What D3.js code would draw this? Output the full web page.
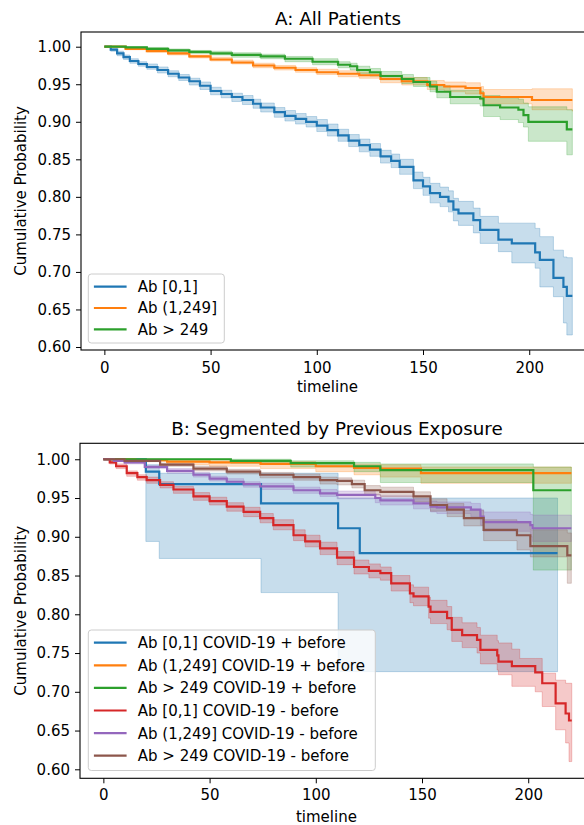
<!DOCTYPE html>
<html>
<head>
<meta charset="utf-8">
<script src="https://cdn.jsdelivr.net/npm/d3@7"></script>
<style>
  html, body { margin: 0; padding: 0; background: #ffffff; }
  svg { display: block; font-family: "DejaVu Sans", sans-serif; }
</style>
</head>
<body>
<script>
// ---------------- DATA ----------------
// rows: [timeline, survival, lower CI, upper CI]
const titleA = "A: All Patients";
const titleB = "B: Segmented by Previous Exposure";
const xLabel = "timeline";
const yLabel = "Cumulative Probability";
const xTicks = [0, 50, 100, 150, 200];
const yTicks = [0.60, 0.65, 0.70, 0.75, 0.80, 0.85, 0.90, 0.95, 1.00];

const namesA = ["Ab [0,1]", "Ab (1,249]", "Ab > 249"];
const namesB = ["Ab [0,1] COVID-19 + before", "Ab (1,249] COVID-19 + before",
                "Ab > 249 COVID-19 + before", "Ab [0,1] COVID-19 - before",
                "Ab (1,249] COVID-19 - before", "Ab > 249 COVID-19 - before"];

const aLow = [
  [0,1,1,1],[3,0.996,0.994,0.998],[6,0.991,0.988,0.994],[9,0.986,0.983,0.989],
  [12,0.981,0.978,0.984],[16,0.977,0.974,0.980],[20,0.973,0.970,0.977],[25,0.969,0.965,0.973],
  [30,0.964,0.960,0.968],[35,0.959,0.955,0.963],[40,0.954,0.949,0.958],[45,0.948,0.943,0.953],
  [50,0.941,0.936,0.946],[55,0.937,0.932,0.942],[60,0.933,0.927,0.938],[65,0.929,0.923,0.935],
  [70,0.924,0.918,0.930],[73.6,0.919,0.913,0.925],[80,0.913,0.906,0.919],[85,0.908,0.901,0.915],
  [90,0.904,0.897,0.911],[95,0.900,0.893,0.907],[100,0.895,0.887,0.903],[105,0.889,0.881,0.897],
  [110,0.882,0.874,0.890],[115,0.875,0.867,0.883],[120,0.869,0.860,0.877],[125,0.863,0.854,0.871],
  [130,0.854,0.845,0.862],[135,0.848,0.839,0.857],[139,0.840,0.830,0.850],[145.5,0.822,0.811,0.833],
  [150,0.814,0.802,0.826],[153.3,0.805,0.792,0.818],[158,0.800,0.787,0.813],[162,0.794,0.780,0.808],
  [164.3,0.783,0.768,0.798],[166.7,0.778,0.762,0.794],[173.7,0.769,0.752,0.785],[176.9,0.756,0.738,0.774],
  [185.5,0.743,0.727,0.765],[191.8,0.738,0.712,0.765],[202.8,0.726,0.705,0.758],[205,0.716,0.680,0.747],
  [211.4,0.692,0.667,0.729],[216.1,0.680,0.632,0.720],[217.7,0.668,0.616,0.719],[220.3,0.668,0.616,0.719]
];
const aMid = [
  [0,1,1,1],[10,0.997,0.996,0.998],[20,0.994,0.993,0.996],[30,0.991,0.989,0.993],
  [40,0.987,0.985,0.989],[50,0.983,0.981,0.986],[60,0.979,0.977,0.982],[70,0.975,0.972,0.978],
  [80,0.972,0.969,0.975],[90,0.969,0.966,0.972],[100,0.966,0.963,0.970],[110,0.964,0.960,0.968],
  [120,0.962,0.958,0.966],[130,0.957,0.952,0.962],[140,0.954,0.949,0.959],[152,0.949,0.943,0.955],
  [160,0.947,0.940,0.953],[170,0.945,0.937,0.952],[177,0.938,0.929,0.947],[178.5,0.933,0.924,0.943],
  [201.3,0.929,0.916,0.944],[220.3,0.929,0.914,0.944]
];
const aHigh = [
  [0,1,1,1],[10,0.999,0.998,1.0],[20,0.997,0.996,0.999],[30,0.995,0.993,0.997],
  [40,0.993,0.991,0.995],[50,0.991,0.989,0.994],[60,0.989,0.986,0.992],[73.6,0.987,0.984,0.990],
  [85,0.984,0.980,0.987],[98,0.980,0.976,0.984],[110,0.976,0.972,0.980],[115.7,0.974,0.969,0.978],
  [119,0.969,0.964,0.974],[125,0.966,0.961,0.971],[130,0.961,0.956,0.967],[140,0.957,0.951,0.963],
  [145.5,0.953,0.947,0.959],[153.3,0.947,0.940,0.954],[156.5,0.940,0.932,0.948],[162.8,0.933,0.924,0.942],
  [176.9,0.931,0.921,0.941],[178.5,0.922,0.907,0.935],[186.3,0.919,0.903,0.932],[194.9,0.916,0.899,0.930],
  [197.3,0.909,0.893,0.925],[199.6,0.900,0.874,0.920],[217.7,0.890,0.856,0.916],[220.3,0.890,0.856,0.916]
];

const bLowPos = [
  [0,1,1,1],[20,0.984,0.894,0.993],[26.3,0.968,0.872,0.982],[74.2,0.943,0.828,0.982],
  [110.5,0.911,0.726,0.950],[120.7,0.879,0.726,0.950],[213.8,0.879,0.726,0.950]
];
const bMidPos = [
  [0,1,1,1],[15,0.999,0.997,1.0],[30,0.997,0.993,0.999],[50,0.996,0.991,0.998],
  [74,0.994,0.988,0.997],[100,0.991,0.984,0.995],[118,0.989,0.980,0.994],[130.4,0.988,0.977,0.993],
  [149.5,0.982,0.969,0.990],[220.3,0.982,0.969,0.990]
];
const bHighPos = [
  [0,1,1,1],[60,0.998,0.995,1.0],[88.2,0.995,0.990,0.998],[118,0.991,0.984,0.996],
  [130.4,0.986,0.970,0.994],[202.4,0.960,0.857,0.990],[220.3,0.960,0.857,0.990]
];
const bLowNeg = [
  [0,1,1,1],[3,0.996,0.994,0.998],[6,0.991,0.988,0.994],[11,0.982,0.978,0.985],
  [16,0.977,0.973,0.980],[20.4,0.973,0.969,0.977],[26.7,0.967,0.963,0.971],[33,0.961,0.956,0.965],
  [42.4,0.952,0.947,0.957],[50,0.946,0.941,0.951],[58.1,0.939,0.933,0.944],[66,0.932,0.926,0.938],
  [73.8,0.924,0.918,0.930],[80,0.915,0.909,0.922],[89.5,0.902,0.895,0.909],[95,0.894,0.887,0.902],
  [102,0.885,0.877,0.893],[110,0.873,0.864,0.881],[118,0.861,0.852,0.870],[125,0.856,0.847,0.865],
  [130.4,0.853,0.844,0.861],[135.5,0.840,0.830,0.850],[144.3,0.827,0.815,0.838],[146,0.823,0.811,0.835],
  [153.1,0.810,0.795,0.822],[154,0.803,0.788,0.818],[161.8,0.795,0.780,0.810],[164,0.780,0.765,0.796],
  [168.9,0.773,0.757,0.789],[175.9,0.767,0.750,0.783],[177.5,0.754,0.736,0.773],[185.4,0.747,0.728,0.766],
  [186,0.739,0.722,0.763],[192.3,0.733,0.707,0.755],[196,0.733,0.707,0.743],[203.3,0.725,0.700,0.743],
  [206.6,0.711,0.681,0.724],[212.9,0.685,0.651,0.715],[217.6,0.672,0.634,0.711],[219.2,0.663,0.610,0.711],
  [220.5,0.663,0.610,0.711]
];
const bMidNeg = [
  [0,1,1,1],[5,0.998,0.997,0.999],[10,0.996,0.994,0.997],[19.5,0.990,0.988,0.992],
  [30,0.985,0.982,0.988],[42.4,0.980,0.977,0.983],[50,0.975,0.972,0.978],[58.1,0.971,0.968,0.975],
  [66,0.968,0.964,0.971],[73.8,0.965,0.961,0.969],[89.5,0.960,0.956,0.964],[102,0.956,0.952,0.961],
  [110,0.954,0.949,0.959],[128,0.950,0.944,0.955],[130.4,0.947,0.941,0.953],[146,0.943,0.936,0.949],
  [154,0.939,0.932,0.946],[157,0.938,0.930,0.945],[173,0.935,0.926,0.943],[177.5,0.926,0.915,0.935],
  [179,0.919,0.907,0.932],[201,0.915,0.900,0.929],[202,0.911,0.894,0.928],[220.3,0.911,0.894,0.928]
];
const bHighNeg = [
  [0,1,1,1],[10,0.998,0.997,0.999],[26.7,0.993,0.991,0.995],[42.4,0.988,0.985,0.991],
  [58.1,0.984,0.981,0.987],[73.8,0.980,0.976,0.983],[89.5,0.977,0.973,0.981],[102,0.973,0.968,0.977],
  [110,0.972,0.967,0.976],[117,0.968,0.963,0.973],[123,0.960,0.954,0.966],[130.4,0.958,0.952,0.964],
  [146,0.952,0.945,0.958],[154,0.941,0.933,0.949],[161.8,0.935,0.926,0.943],[169.7,0.924,0.914,0.934],
  [179,0.909,0.895,0.922],[194.7,0.902,0.883,0.918],[201,0.888,0.874,0.909],[218.4,0.876,0.840,0.905],
  [220.3,0.876,0.840,0.905]
];

// ---------------- STYLE ----------------
const palette = ["#1f77b4", "#ff7f0e", "#2ca02c", "#d62728", "#9467bd", "#8c564b"];
const FONT = 15;

const svg = d3.select("body").append("svg")
  .attr("width", 584).attr("height", 825);

function drawPanel(opt) {
  const x = d3.scaleLinear().domain([-11, 231.2]).range([opt.left, opt.left + 514.5]);
  const y = d3.scaleLinear().domain(opt.yDomain).range([opt.bottom, opt.top]);
  const g = svg.append("g");

  // CI bands (drawn below all lines)
  const area = d3.area().curve(d3.curveStepAfter)
    .x(d => x(d[0])).y0(d => y(d[2])).y1(d => y(d[3]));
  opt.series.forEach((s, i) => {
    g.append("path").attr("d", area(s))
      .attr("fill", palette[i]).attr("fill-opacity", 0.25)
      .attr("stroke", palette[i]).attr("stroke-opacity", 0.25).attr("stroke-width", 1);
  });
  // survival lines
  const line = d3.line().curve(d3.curveStepAfter).x(d => x(d[0])).y(d => y(d[1]));
  opt.series.forEach((s, i) => {
    g.append("path").attr("d", line(s)).attr("fill", "none")
      .attr("stroke", palette[i]).attr("stroke-width", 2.2);
  });

  // axes
  const ax = g.append("g").attr("transform", `translate(0,${opt.bottom})`)
    .call(d3.axisBottom(x).tickValues(xTicks).tickFormat(d3.format("d"))
      .tickSize(5).tickSizeOuter(0).tickPadding(4));
  const ay = g.append("g").attr("transform", `translate(${opt.left},0)`)
    .call(d3.axisLeft(y).tickValues(yTicks).tickFormat(d3.format(".2f"))
      .tickSize(5).tickSizeOuter(0).tickPadding(5));
  [ax, ay].forEach(a => {
    a.select(".domain").remove();
    a.selectAll("text").attr("font-size", FONT).attr("fill", "#000")
      .attr("font-family", "DejaVu Sans");
    a.selectAll("line").attr("stroke", "#000").attr("stroke-width", 1);
  });
  ax.selectAll("text").attr("dy", null).attr("y", opt.tickBase - opt.bottom)
    .attr("dominant-baseline", "alphabetic");

  // spines
  g.append("rect").attr("x", opt.left).attr("y", opt.top)
    .attr("width", 514.5).attr("height", opt.bottom - opt.top)
    .attr("fill", "none").attr("stroke", "#000").attr("stroke-width", 1.1);

  // labels
  g.append("text").attr("x", x(105)).attr("y", opt.xLabBase)
    .attr("text-anchor", "middle").attr("font-size", FONT).text(xLabel);
  g.append("text").attr("transform", `translate(26,${(opt.top + opt.bottom) / 2}) rotate(-90)`)
    .attr("text-anchor", "middle").attr("font-size", FONT).text(yLabel);
  g.append("text").attr("x", opt.left + 257).attr("y", opt.titleBase)
    .attr("text-anchor", "middle").attr("font-size", 18.3).text(opt.title);

  // legend
  const L = opt.legend;
  const lg = g.append("g");
  lg.append("rect").attr("x", L.x).attr("y", L.y).attr("width", L.w).attr("height", L.h)
    .attr("rx", 3).attr("fill", "#fff").attr("fill-opacity", 0.8)
    .attr("stroke", "#cccccc").attr("stroke-width", 1);
  opt.names.forEach((n, i) => {
    const cy = L.y + L.first + i * L.step;
    lg.append("line").attr("x1", L.x + 5.6).attr("x2", L.x + 38.3)
      .attr("y1", cy).attr("y2", cy).attr("stroke", palette[i]).attr("stroke-width", 2.2);
    lg.append("text").attr("x", L.x + 49.5).attr("y", cy + 5.4)
      .attr("font-size", FONT).text(n);
  });
}

drawPanel({
  title: titleA, names: namesA, series: [aLow, aMid, aHigh],
  left: 81, top: 32, bottom: 350, yDomain: [0.596, 1.0196],
  tickBase: 372.7, xLabBase: 391.7, titleBase: 25,
  legend: {x: 88.3, y: 274, w: 136, h: 69, first: 12.7, step: 21.3}
});
drawPanel({
  title: titleB, names: namesB,
  series: [bLowPos, bMidPos, bHighPos, bLowNeg, bMidNeg, bHighNeg],
  left: 80, top: 443.3, bottom: 778.3, yDomain: [0.5884, 1.0206],
  tickBase: 800.2, xLabBase: 821.7, titleBase: 435,
  legend: {x: 88.3, y: 630, w: 287, h: 140.5, first: 12.7, step: 22.6}
});
</script>
</body>
</html>
